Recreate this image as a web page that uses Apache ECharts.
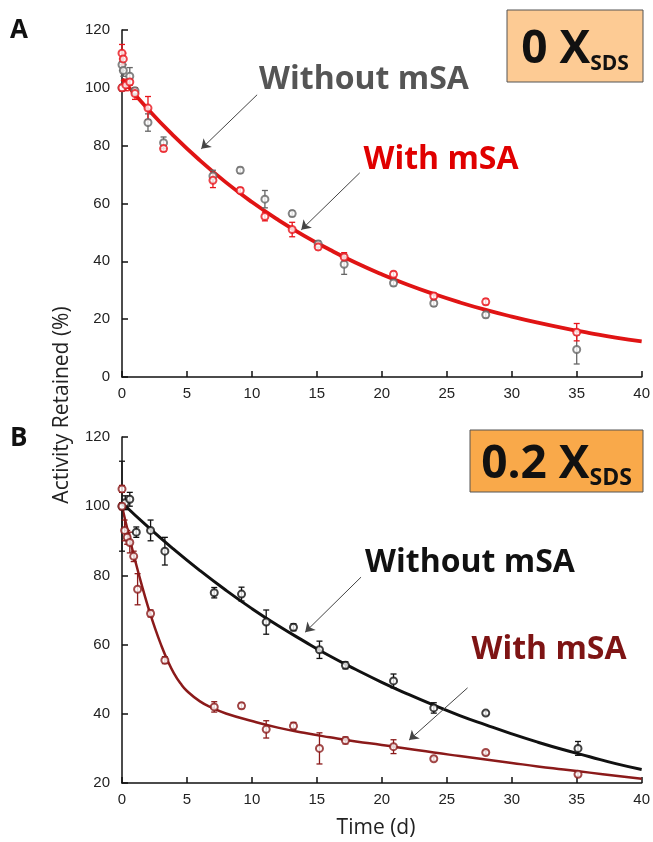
<!DOCTYPE html>
<html>
<head>
<meta charset="utf-8">
<script src="https://cdn.jsdelivr.net/npm/echarts/dist/echarts.min.js"></script>
<style>
  html, body { margin: 0; padding: 0; background: #fff; }
  #main { width: 653px; height: 842px; }
</style>
</head>
<body>
<div id="main"></div>
<script>
// panel A (0 X SDS)
var topWithoutT = [0, 0, 0.1, 0.6, 1, 2, 3.2, 7, 9.1, 11, 13.1, 15.1, 17.1, 20.9, 24, 28, 35];
var topWithoutV = [108, 100, 106, 104, 99, 88, 81, 69.5, 71.5, 61.5, 56.5, 46, 39, 32.5, 25.5, 21.5, 9.5];
var topWithoutE = [2, 1, 2, 3, 1, 3, 2, 2, 1, 3, 1, 1, 3.5, 1, 1, 1, 5];

var topWithT = [0, 0, 0.1, 0.3, 0.6, 1, 2, 3.2, 7, 9.1, 11, 13.1, 15.1, 17.1, 20.9, 24, 28, 35];
var topWithV = [100, 112, 110, 101, 102, 98, 93, 79, 68, 64.5, 55.5, 51, 45, 41.5, 35.5, 28, 26, 15.5];
var topWithE = [1, 3, 2, 2, 1, 2, 4, 1, 2.5, 1, 1.5, 2.5, 1, 1.5, 1, 1, 1, 3];

var topFitT = [0, 2, 4, 6, 8, 10, 12, 14, 16, 18, 20, 22, 24, 26, 28, 30, 32, 34, 36, 38, 40];
var topFitV = [103, 92.6, 83.3, 74.9, 67.3, 60.5, 54.4, 48.9, 44, 39.5, 35.5, 31.9, 28.7, 25.8, 23.2, 20.9, 18.8, 16.9, 15.2, 13.6, 12.3];

// panel B (0.2 X SDS)
var botWithoutT = [0, 0.25, 0.6, 1.1, 2.2, 3.3, 7.1, 9.2, 11.1, 13.2, 15.2, 17.2, 20.9, 24, 28, 35.1];
var botWithoutV = [100, 101, 102, 92.5, 93, 87, 75, 74.6, 66.5, 65, 58.5, 54, 49.5, 41.7, 40.2, 30];
var botWithoutE = [13, 2, 2, 1.5, 3, 4, 1.5, 2, 3.5, 1, 2.5, 1, 2, 1.5, 0.5, 2];

var botWithT = [0, 0, 0.2, 0.4, 0.6, 0.9, 1.2, 2.2, 3.3, 7.1, 9.2, 11.1, 13.2, 15.2, 17.2, 20.9, 24, 28, 35.1];
var botWithV = [105, 100, 93, 91, 89.5, 85.5, 76, 69, 55.5, 42, 42.3, 35.5, 36.5, 30, 32.3, 30.5, 27, 28.8, 22.5];
var botWithE = [1, 1, 3, 2, 3, 1.5, 4.5, 1, 1, 1.5, 0.8, 2.5, 1, 4.5, 1, 2, 0.5, 0.5, 0.5];

var botWithoutFitT = [0, 2, 4, 6, 8, 10, 12, 14, 16, 18, 20, 22, 24, 26, 28, 30, 32, 34, 36, 38, 40];
var botWithoutFitV = [101, 94, 87.5, 81.4, 75.7, 70.4, 65.5, 61, 56.7, 52.8, 49.1, 45.7, 42.5, 39.5, 36.8, 34.2, 31.8, 29.6, 27.6, 25.6, 23.9];

var botWithFitT = [0, 0.5, 1, 1.5, 2, 2.5, 3, 3.5, 4, 4.5, 5, 6, 7, 8, 10, 12, 14, 16, 18, 20, 22, 24, 26, 28, 30, 32, 34, 36, 38, 40];
var botWithFitV = [100, 92, 84.5, 77.5, 71, 65.2, 60, 55.5, 51.7, 48.8, 46.6, 43.6, 41.6, 40.1, 37.9, 36, 34.5, 33.2, 32, 31, 29.9, 28.8, 27.8, 26.8, 25.8, 24.8, 23.9, 23, 22.1, 21.2];

var xTicks = { min: 0, max: 40, interval: 5 };

function pairs(t, v) {
  return t.map(function (x, i) { return [x, v[i]]; });
}
function errs(t, v, e) {
  return t.map(function (x, i) { return [x, v[i] - e[i], v[i] + e[i]]; });
}

function errorBars(data, color, xi, yi) {
  return {
    type: 'custom',
    xAxisIndex: xi,
    yAxisIndex: yi,
    data: data,
    encode: { x: 0, y: [1, 2] },
    z: 3,
    renderItem: function (params, api) {
      var x = api.value(0);
      var hi = api.coord([x, api.value(2)]);
      var lo = api.coord([x, api.value(1)]);
      var w = 3;
      var st = { stroke: color, lineWidth: 1.3 };
      return {
        type: 'group',
        children: [
          { type: 'line', shape: { x1: hi[0], y1: hi[1], x2: lo[0], y2: lo[1] }, style: st },
          { type: 'line', shape: { x1: hi[0] - w, y1: hi[1], x2: hi[0] + w, y2: hi[1] }, style: st },
          { type: 'line', shape: { x1: lo[0] - w, y1: lo[1], x2: lo[0] + w, y2: lo[1] }, style: st }
        ]
      };
    }
  };
}

function points(data, color, xi, yi) {
  return {
    type: 'scatter',
    xAxisIndex: xi,
    yAxisIndex: yi,
    data: data,
    symbol: 'emptyCircle',
    symbolSize: 7,
    z: 4,
    itemStyle: { color: color, borderColor: color, borderWidth: 1.4 }
  };
}

function fit(data, color, width, xi, yi, arrows) {
  var s = {
    type: 'line',
    xAxisIndex: xi,
    yAxisIndex: yi,
    data: data,
    smooth: true,
    showSymbol: false,
    z: 2,
    lineStyle: { color: color, width: width }
  };
  if (arrows) {
    s.markLine = {
      silent: true,
      symbol: ['none', 'arrow'],
      symbolSize: 9,
      label: { show: false },
      lineStyle: { color: '#444', width: 1, type: 'solid' },
      data: arrows
    };
  }
  return s;
}

function arrow(a, b) {
  return [{ coord: a }, { coord: b }];
}

var axisLine = { lineStyle: { color: '#111', width: 1.5 } };
var axisLabel = { color: '#222', fontSize: 15, fontFamily: 'Liberation Sans' };

function xAxis(gi) {
  return {
    type: 'value', gridIndex: gi, min: xTicks.min, max: xTicks.max, interval: xTicks.interval,
    axisLine: axisLine,
    axisTick: { inside: true, length: 6, lineStyle: { color: '#111', width: 1.5 } },
    axisLabel: Object.assign({ margin: 9 }, axisLabel),
    splitLine: { show: false }
  };
}
function yAxis(gi, min) {
  return {
    type: 'value', gridIndex: gi, min: min, max: 120, interval: 20,
    axisLine: Object.assign({ show: true }, axisLine),
    axisTick: { show: true, inside: true, length: 6, lineStyle: { color: '#111', width: 1.5 } },
    axisLabel: Object.assign({ margin: 12 }, axisLabel),
    splitLine: { show: false }
  };
}

function label(txt, x, y, size, color) {
  return {
    type: 'text', x: x, y: y,
    style: {
      text: txt, fill: color, fontSize: size, fontWeight: 'bold',
      fontFamily: 'Open Sans', align: 'center', verticalAlign: 'middle'
    }
  };
}

function sdsBox(x, y, w, h, fill, num, subSize) {
  return {
    type: 'group',
    children: [
      { type: 'rect', shape: { x: x, y: y, width: w, height: h }, style: { fill: fill, stroke: '#555', lineWidth: 1 } },
      {
        type: 'text', x: x + w / 2, y: y + h / 2 + 4,
        style: {
          text: '{a|' + num + ' X}{b|SDS}',
          align: 'center', verticalAlign: 'middle',
          rich: {
            a: { fontSize: 46, fontWeight: 'bold', fontFamily: 'Open Sans', fill: '#111', lineHeight: 50 },
            b: { fontSize: subSize, fontWeight: 'bold', fontFamily: 'Open Sans', fill: '#111', verticalAlign: 'bottom', lineHeight: 12 }
          }
        }
      }
    ]
  };
}

var chart = echarts.init(document.getElementById('main'), null, { renderer: 'canvas' });

chart.setOption({
  animation: false,
  backgroundColor: '#fff',
  grid: [
    { left: 122, top: 30, width: 521, height: 347 },
    { left: 122, top: 437, width: 521, height: 346 }
  ],
  xAxis: [xAxis(0), xAxis(1)],
  yAxis: [yAxis(0, 0), yAxis(1, 20)],
  series: [
    // panel A
    fit(pairs(topFitT, topFitV), '#E01414', 3.8, 0, 0, [
      arrow([10.4, 97.6], [6.1, 78.9]),
      arrow([18.3, 70.6], [13.8, 50.9])
    ]),
    errorBars(errs(topWithoutT, topWithoutV, topWithoutE), '#666', 0, 0),
    points(pairs(topWithoutT, topWithoutV), '#666', 0, 0),
    errorBars(errs(topWithT, topWithV, topWithE), '#E8141B', 0, 0),
    points(pairs(topWithT, topWithV), '#E8141B', 0, 0),
    // panel B
    fit(pairs(botWithoutFitT, botWithoutFitV), '#111', 3, 1, 1, [
      arrow([18.4, 79.5], [14.1, 63.6]),
      arrow([26.6, 47.5], [22.1, 32.4])
    ]),
    fit(pairs(botWithFitT, botWithFitV), '#8B1A1A', 2.5, 1, 1),
    errorBars(errs(botWithoutT, botWithoutV, botWithoutE), '#111', 1, 1),
    points(pairs(botWithoutT, botWithoutV), '#111', 1, 1),
    errorBars(errs(botWithT, botWithV, botWithE), '#8B1A1A', 1, 1),
    points(pairs(botWithT, botWithV), '#8B1A1A', 1, 1)
  ],
  graphic: [
    { type: 'text', x: 10, y: 18, style: { text: 'A', fontSize: 26, fontWeight: 'bold', fontFamily: 'Open Sans', fill: '#111' } },
    { type: 'text', x: 10, y: 426, style: { text: 'B', fontSize: 26, fontWeight: 'bold', fontFamily: 'Open Sans', fill: '#111' } },
    {
      type: 'text', x: 62, y: 405, rotation: Math.PI / 2,
      style: { text: 'Activity Retained (%)', fontSize: 21, fontFamily: 'Open Sans', fill: '#222', align: 'center', verticalAlign: 'middle' }
    },
    {
      type: 'text', x: 376, y: 828,
      style: { text: 'Time (d)', fontSize: 21, fontFamily: 'Open Sans', fill: '#222', align: 'center', verticalAlign: 'middle' }
    },
    label('Without mSA', 364, 80, 32, '#555'),
    label('With mSA', 441, 160, 32, '#E00000'),
    label('Without mSA', 470, 563, 32, '#111'),
    label('With mSA', 549, 650, 32, '#7E1414'),
    sdsBox(507, 10, 136, 72, '#FDCB94', '0', 21),
    sdsBox(470, 430, 173, 62, '#F9A94A', '0.2', 23)
  ]
});
</script>
</body>
</html>
